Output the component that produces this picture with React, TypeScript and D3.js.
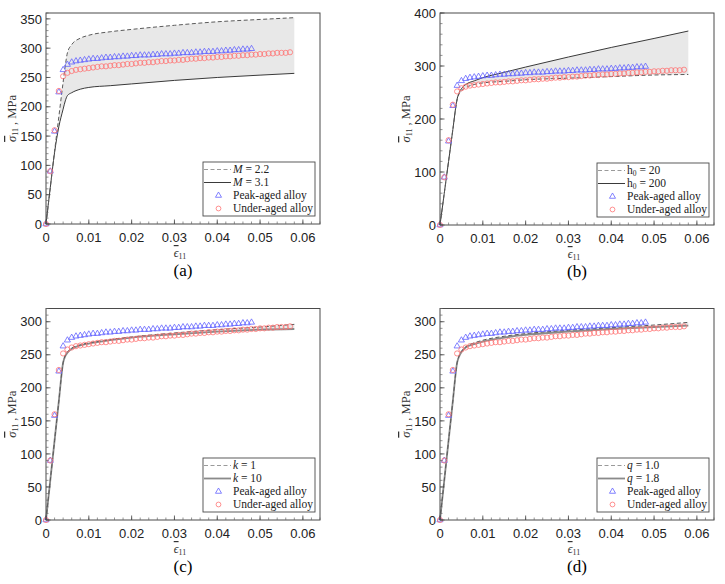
import React from "react";
import * as d3 from "d3";

// ---------- data ----------
const peakStrain = [0, 0.001, 0.002, 0.003, 0.004, 0.005, 0.006, 0.007, 0.008, 0.009, 0.01, 0.011, 0.012, 0.013, 0.014, 0.015, 0.016, 0.017, 0.018, 0.019, 0.02, 0.021, 0.022, 0.023, 0.024, 0.025, 0.026, 0.027, 0.028, 0.029, 0.03, 0.031, 0.032, 0.033, 0.034, 0.035, 0.036, 0.037, 0.038, 0.039, 0.04, 0.041, 0.042, 0.043, 0.044, 0.045, 0.046, 0.047, 0.048];
const peakStress = [0, 90, 158, 225, 263, 272, 276, 278, 279, 280, 281, 282, 282, 283, 284, 284, 285, 285, 286, 286, 287, 287, 288, 288, 288, 289, 289, 290, 290, 290, 291, 291, 292, 292, 292, 293, 293, 294, 294, 294, 295, 295, 296, 296, 297, 297, 298, 298, 299];

const underStrain = [0, 0.001, 0.002, 0.003, 0.004, 0.005, 0.006, 0.007, 0.008, 0.009, 0.01, 0.011, 0.012, 0.013, 0.014, 0.015, 0.016, 0.017, 0.018, 0.019, 0.02, 0.021, 0.022, 0.023, 0.024, 0.025, 0.026, 0.027, 0.028, 0.029, 0.03, 0.031, 0.032, 0.033, 0.034, 0.035, 0.036, 0.037, 0.038, 0.039, 0.04, 0.041, 0.042, 0.043, 0.044, 0.045, 0.046, 0.047, 0.048, 0.049, 0.05, 0.051, 0.052, 0.053, 0.054, 0.055, 0.056, 0.057];
const underStress = [0, 90, 160, 227, 252, 258, 261, 263, 264, 265, 266, 267, 268, 269, 269, 270, 271, 271, 272, 273, 273, 274, 275, 275, 276, 276, 277, 278, 278, 279, 279, 280, 280, 281, 282, 282, 283, 283, 284, 284, 285, 285, 286, 286, 287, 287, 288, 288, 289, 289, 290, 290, 291, 291, 292, 292, 292, 293];

const curveStrain = [0, 0.001, 0.002, 0.003, 0.004, 0.0045, 0.005, 0.006, 0.008, 0.01, 0.015, 0.02, 0.03, 0.04, 0.05, 0.058];

// (a) M = 2.2 (dashed), M = 3.1 (solid)
const aDashed = [0, 62, 124, 183, 242, 270, 292, 306, 317, 322, 328, 332, 339, 345, 349, 352];
const aSolid = [0, 62, 122, 166, 196, 210, 219, 224, 230, 233, 236, 239, 245, 250, 254, 257];
// (b) h0 = 20 (dashed), h0 = 200 (solid)
const bDashed = [0, 60, 120, 180, 236, 248, 253, 259, 265, 268, 271, 274, 277, 280, 283, 284];
const bSolid = [0, 60, 120, 180, 238, 250, 257, 265, 272, 278, 288, 298, 317, 335, 352, 366];
// (c) k = 1 (dashed), k = 10 (solid)
const cDashed = [0, 60, 120, 180, 238, 249, 254, 260, 265, 268, 273, 277, 283, 288, 292, 296];
const cSolid = [0, 60, 120, 180, 238, 248, 253, 259, 264, 267, 272, 276, 281, 285, 288, 289];
// (d) q = 1.0 (dashed), q = 1.8 (solid)
const dDashed = [0, 60, 120, 180, 238, 249, 255, 262, 268, 272, 278, 282, 287, 291, 295, 299];
const dSolid = [0, 60, 120, 180, 238, 248, 254, 261, 266, 270, 276, 280, 285, 289, 292, 294];

const xTicks = [0, 0.01, 0.02, 0.03, 0.04, 0.05, 0.06];
const xTickLabels = ["0", "0.01", "0.02", "0.03", "0.04", "0.05", "0.06"];
const yTicksA = [0, 50, 100, 150, 200, 250, 300, 350];
const yTicksB = [0, 100, 200, 300, 400];
const yTicksCD = [0, 50, 100, 150, 200, 250, 300];

const X_MAX = 0.064;

type PanelDef = {
  id: string;
  left: number;
  right: number;
  top: number;
  bottom: number;
  yMax: number;
  yTicks: number[];
  yMinor: number;
  dashed: number[];
  solid: number[];
  dashLabel: React.ReactNode;
  solidLabel: React.ReactNode;
  heavySolid: boolean;
};

const panels: PanelDef[] = [
  {
    id: "a", left: 46, right: 320, top: 13, bottom: 224, yMax: 360, yTicks: yTicksA, yMinor: 10,
    dashed: aDashed, solid: aSolid,
    dashLabel: <><tspan fontStyle="italic">M</tspan> = 2.2</>,
    solidLabel: <><tspan fontStyle="italic">M</tspan> = 3.1</>,
    heavySolid: false,
  },
  {
    id: "b", left: 440, right: 714, top: 13, bottom: 225, yMax: 400, yTicks: yTicksB, yMinor: 20,
    dashed: bDashed, solid: bSolid,
    dashLabel: <>h<tspan fontSize="7.5" dy="2">0</tspan><tspan dy="-2"> = 20</tspan></>,
    solidLabel: <>h<tspan fontSize="7.5" dy="2">0</tspan><tspan dy="-2"> = 200</tspan></>,
    heavySolid: false,
  },
  {
    id: "c", left: 46, right: 320, top: 308.5, bottom: 520, yMax: 320, yTicks: yTicksCD, yMinor: 10,
    dashed: cDashed, solid: cSolid,
    dashLabel: <><tspan fontStyle="italic">k</tspan> = 1</>,
    solidLabel: <><tspan fontStyle="italic">k</tspan> = 10</>,
    heavySolid: true,
  },
  {
    id: "d", left: 440, right: 714, top: 308.5, bottom: 520, yMax: 320, yTicks: yTicksCD, yMinor: 10,
    dashed: dDashed, solid: dSolid,
    dashLabel: <><tspan fontStyle="italic">q</tspan> = 1.0</>,
    solidLabel: <><tspan fontStyle="italic">q</tspan> = 1.8</>,
    heavySolid: true,
  },
];

const SANS = "'Liberation Sans', Arial, sans-serif";
const SERIF = "'Liberation Serif', 'Times New Roman', serif";
const TRI_COLOR = "#6262ff";
const CIR_COLOR = "#ff7373";

function Panel({ p }: { p: PanelDef }) {
  const x = d3.scaleLinear().domain([0, X_MAX]).range([p.left, p.right]);
  const y = d3.scaleLinear().domain([0, p.yMax]).range([p.bottom, p.top]);

  const idx = curveStrain.map((_, i) => i);
  const lineDashed = d3.line<number>().x(i => x(curveStrain[i])).y(i => y(p.dashed[i])).curve(d3.curveMonotoneX);
  const lineSolid = d3.line<number>().x(i => x(curveStrain[i])).y(i => y(p.solid[i])).curve(d3.curveMonotoneX);
  const area = d3.area<number>()
    .x(i => x(curveStrain[i]))
    .y0(i => y(p.solid[i]))
    .y1(i => y(p.dashed[i]))
    .curve(d3.curveMonotoneX);

  const tri = d3.symbol().type(d3.symbolTriangle).size(16)() as string;

  const xMinor = d3.range(0, X_MAX + 1e-9, 0.002);
  const yMinor = d3.range(0, p.yMax + 1e-9, p.yMinor);

  const lgR = p.right - 5;
  const lgL = lgR - 112;
  const lgB = p.bottom - 8;
  const lgT = lgB - 54;
  const rowY = [lgT + 7.5, lgT + 20.5, lgT + 33.5, lgT + 46.5];

  const cx = (p.left + p.right) / 2;
  const cy = (p.top + p.bottom) / 2;
  const solidStroke = p.heavySolid ? "#8a8a8a" : "#3a3a3a";
  const solidWidth = p.heavySolid ? 1.8 : 1;

  return (
    <g>
      <path d={area(idx) as string} fill="#e8e8e8" stroke="none" />
      <path d={lineSolid(idx) as string} fill="none" stroke={solidStroke} strokeWidth={solidWidth} />
      <path d={lineDashed(idx) as string} fill="none" stroke="#5a5a5a" strokeWidth={1} strokeDasharray="4 2.5" />

      {peakStrain.map((s, i) => (
        <path key={"t" + i} d={tri} transform={`translate(${x(s)},${y(peakStress[i])})`} fill="none" stroke={TRI_COLOR} strokeWidth={0.8} />
      ))}
      {underStrain.map((s, i) => (
        <circle key={"c" + i} cx={x(s)} cy={y(underStress[i])} r={2.6} fill="none" stroke={CIR_COLOR} strokeWidth={0.8} />
      ))}

      {/* frame */}
      <rect x={p.left} y={p.top} width={p.right - p.left} height={p.bottom - p.top} fill="none" stroke="#4a4a4a" strokeWidth={1} />

      {/* x ticks */}
      {xMinor.map((t, i) => (
        <line key={"xm" + i} x1={x(t)} x2={x(t)} y1={p.bottom} y2={p.bottom - 2.5} stroke="#666" strokeWidth={0.7} />
      ))}
      {xTicks.map((t, i) => (
        <g key={"xt" + i}>
          <line x1={x(t)} x2={x(t)} y1={p.bottom} y2={p.bottom - 4.5} stroke="#444" strokeWidth={0.8} />
          <text x={x(t)} y={p.bottom + 17.5} textAnchor="middle" fontFamily={SANS} fontSize={13} fill="#222">{xTickLabels[i]}</text>
        </g>
      ))}
      {/* y ticks */}
      {yMinor.map((t, i) => (
        <line key={"ym" + i} x1={p.left} x2={p.left + 2.5} y1={y(t)} y2={y(t)} stroke="#666" strokeWidth={0.7} />
      ))}
      {p.yTicks.map((t, i) => (
        <g key={"yt" + i}>
          <line x1={p.left} x2={p.left + 4.5} y1={y(t)} y2={y(t)} stroke="#444" strokeWidth={0.8} />
          <text x={p.left - 4} y={y(t)} dy="0.36em" textAnchor="end" fontFamily={SANS} fontSize={13} fill="#222">{t}</text>
        </g>
      ))}

      {/* axis titles */}
      <text x={cx - 3} y={p.bottom + 33} textAnchor="middle" fontFamily={SERIF} fontSize={12} fill="#333">
        <tspan fontStyle="italic" style={{ textDecoration: "overline" }}>ϵ</tspan><tspan fontSize={8} dy={2}>11</tspan>
      </text>
      <text transform={`translate(${p.left - 30},${cy}) rotate(-90)`} textAnchor="middle" fontFamily={SERIF} fontSize={12.5} fill="#333">
        <tspan fontStyle="italic" style={{ textDecoration: "overline" }}>σ</tspan><tspan fontSize={8} dy={2}>11</tspan><tspan dy={-2}> , MPa</tspan>
      </text>

      {/* legend */}
      <rect x={lgL} y={lgT} width={lgR - lgL} height={lgB - lgT} fill="#fff" stroke="#4a4a4a" strokeWidth={0.9} />
      <line x1={lgL + 1} x2={lgL + 28} y1={rowY[0]} y2={rowY[0]} stroke="#9a9a9a" strokeWidth={1} strokeDasharray="4 2.5" />
      <line x1={lgL + 1} x2={lgL + 28} y1={rowY[1]} y2={rowY[1]} stroke={solidStroke} strokeWidth={solidWidth} />
      <path d={tri} transform={`translate(${lgL + 15.5},${rowY[2]})`} fill="none" stroke={TRI_COLOR} strokeWidth={0.8} />
      <circle cx={lgL + 15.5} cy={rowY[3]} r={2.4} fill="none" stroke={CIR_COLOR} strokeWidth={0.8} />
      <g fontFamily={SERIF} fontSize={11.5} fill="#222">
        <text x={lgL + 30} y={rowY[0]} dy="0.33em">{p.dashLabel}</text>
        <text x={lgL + 30} y={rowY[1]} dy="0.33em">{p.solidLabel}</text>
        <text x={lgL + 30} y={rowY[2]} dy="0.33em">Peak-aged alloy</text>
        <text x={lgL + 30} y={rowY[3]} dy="0.33em">Under-aged alloy</text>
      </g>

      {/* panel label */}
      <text x={cx} y={p.bottom + 52} textAnchor="middle" fontFamily={SERIF} fontSize={17} fill="#000">({p.id})</text>
    </g>
  );
}

export default function App() {
  return (
    <svg width={725} height={584} viewBox="0 0 725 584" style={{ display: "block", position: "absolute", left: 0, top: 0, background: "#fff" }}>
      <rect width={725} height={584} fill="#fff" />
      {panels.map(p => <Panel key={p.id} p={p} />)}
    </svg>
  );
}
